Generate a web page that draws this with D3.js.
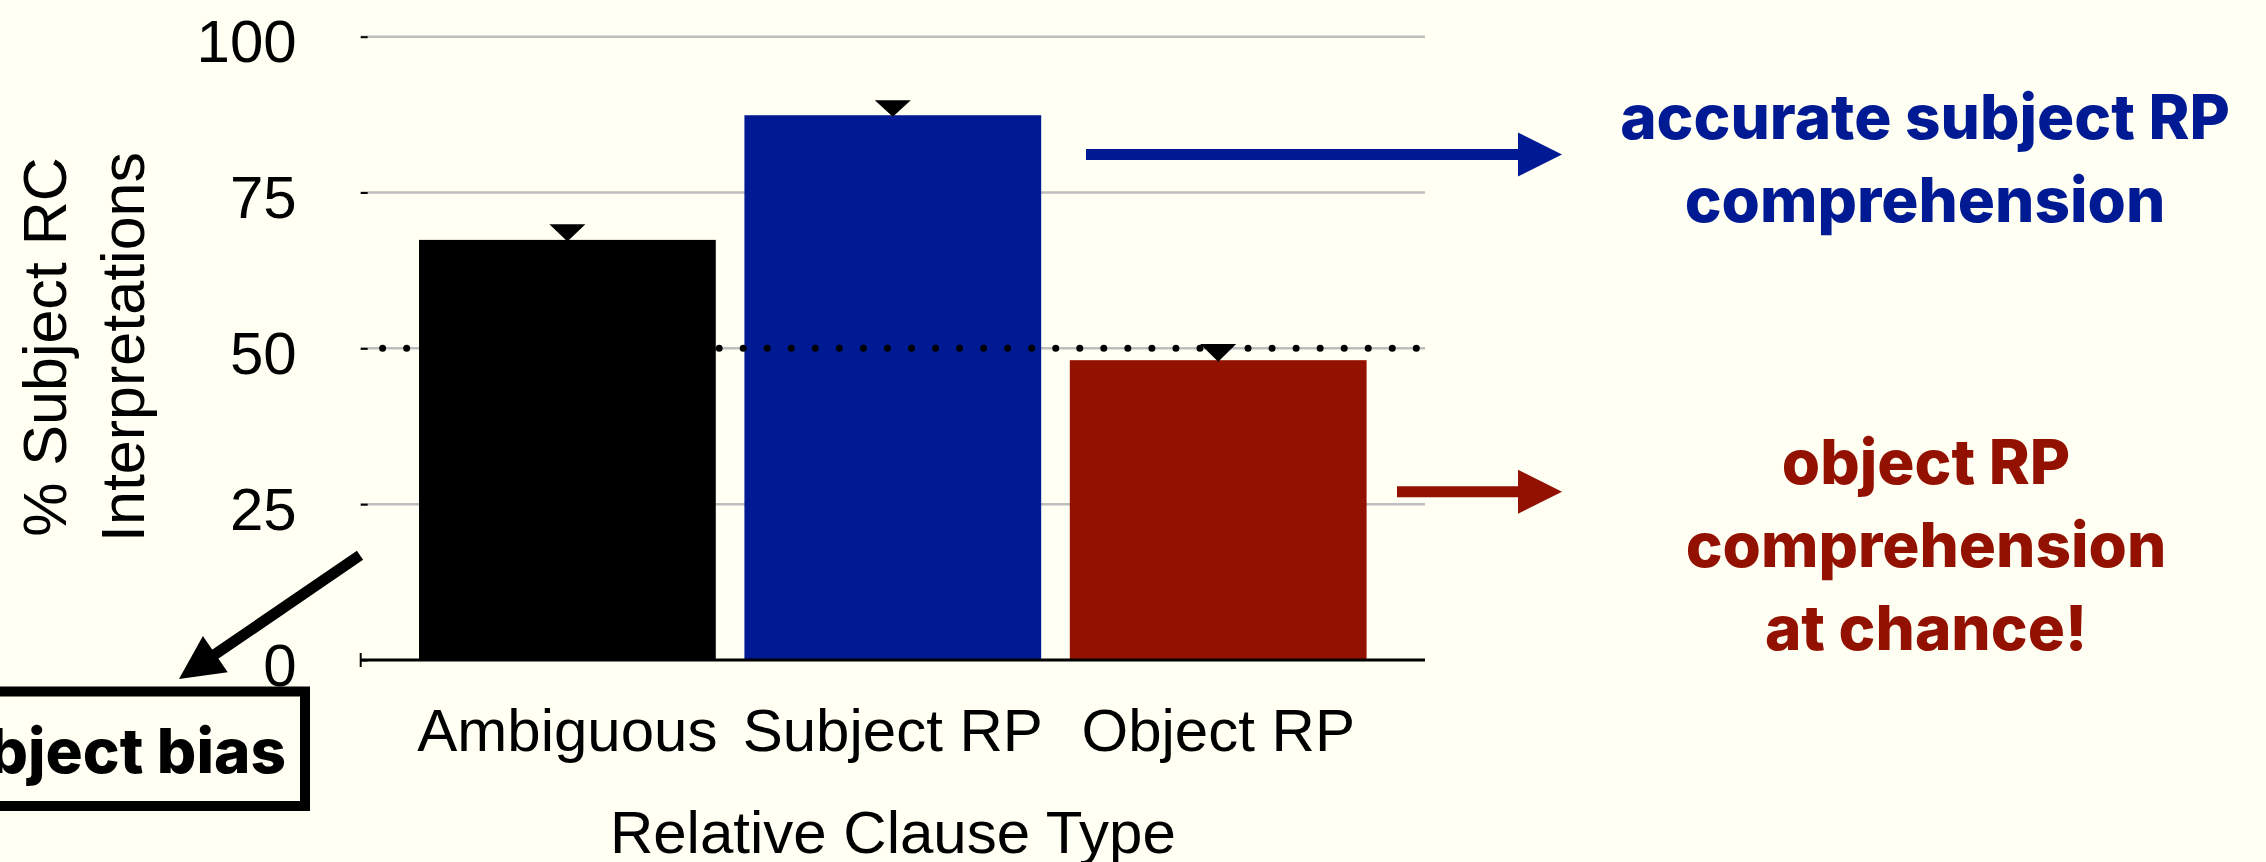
<!DOCTYPE html>
<html>
<head>
<meta charset="utf-8">
<script src="https://cdn.jsdelivr.net/npm/d3@7"></script>
<style>
  html, body { margin: 0; padding: 0; background: #fffff3; overflow: hidden; }
  svg { display: block; }
</style>
</head>
<body>
<script>
// data
var categories = ["Ambiguous", "Subject RP", "Object RP"];
var means = [67.4, 87.4, 48.1];
var errors = [2.5, 2.4, 2.6];
var barColors = ["#000000", "#001a94", "#931100"];
var yTicks = [0, 25, 50, 75, 100];
var gridTicks = [25, 50, 75, 100];
var chanceLevel = 50;

var blueNote = ["accurate subject RP", "comprehension"];
var redNote = ["object RP", "comprehension", "at chance!"];
var biasNote = "object bias";

var width = 2266;
var height = 862;

var plotLeft = 360.7;
var plotRight = 1425;

var svg = d3.select("body")
	.append("svg")
	.attr("width", width)
	.attr("height", height);

svg.append("rect")
	.attr("width", width)
	.attr("height", height)
	.attr("fill", "#fffff3");

var yScale = d3.scaleLinear().domain([0, 100]).range([660, 36.7]);
var xScale = d3.scaleBand()
	.domain(categories)
	.range([404.7, 1380.9])
	.paddingInner(0.088)
	.paddingOuter(0.044);

var rows = categories.map(function (c, i) {
	return { cat: c, mean: means[i], err: errors[i], color: barColors[i] };
});

// grid lines
svg.append("g")
	.selectAll("line")
	.data(gridTicks)
	.enter()
	.append("line")
	.attr("x1", plotLeft)
	.attr("x2", plotRight)
	.attr("y1", function (d) { return yScale(d); })
	.attr("y2", function (d) { return yScale(d); })
	.attr("stroke", "#bdbdbd")
	.attr("stroke-width", 2.5);

// Y axis
var gY = svg.append("g")
	.attr("transform", "translate(" + plotLeft + ",0)")
	.call(d3.axisLeft(yScale).tickValues(yTicks).tickSize(-7).tickPadding(64));
gY.select(".domain").remove();
gY.selectAll(".tick line").attr("stroke", "#000").attr("stroke-width", 2);
gY.selectAll(".tick text")
	.attr("font-family", "'Liberation Sans', Arial, sans-serif")
	.attr("font-size", "60px")
	.attr("fill", "#000")
	.attr("dy", "0.42em");

// bars
svg.append("g")
	.selectAll("rect")
	.data(rows)
	.enter()
	.append("rect")
	.attr("x", function (d) { return xScale(d.cat); })
	.attr("width", xScale.bandwidth())
	.attr("y", function (d) { return yScale(d.mean); })
	.attr("height", function (d) { return yScale(0) - yScale(d.mean); })
	.attr("fill", function (d) { return d.color; });

// chance line (dots)
svg.append("line")
	.attr("x1", plotLeft + 21.9)
	.attr("x2", plotRight - 8)
	.attr("y1", yScale(chanceLevel))
	.attr("y2", yScale(chanceLevel))
	.attr("stroke", "#000")
	.attr("stroke-width", 7)
	.attr("stroke-linecap", "round")
	.attr("stroke-dasharray", "0 24.04");

// error markers (down triangles)
svg.append("g")
	.selectAll("path")
	.data(rows)
	.enter()
	.append("path")
	.attr("d", function (d) {
		var cx = xScale(d.cat) + xScale.bandwidth() / 2;
		var top = yScale(d.mean + d.err);
		var tip = yScale(d.mean) + 1.5;
		return "M" + (cx - 18) + "," + top + "L" + (cx + 18) + "," + top + "L" + cx + "," + tip + "Z";
	})
	.attr("fill", "#000");

// X axis
var gX = svg.append("g")
	.attr("transform", "translate(0," + yScale(0) + ")")
	.call(d3.axisBottom(xScale).tickSize(0).tickPadding(48));
gX.select(".domain").remove();
gX.selectAll(".tick text")
	.attr("font-family", "'Liberation Sans', Arial, sans-serif")
	.attr("font-size", "60px")
	.attr("fill", "#000");

svg.append("line")
	.attr("x1", plotLeft)
	.attr("x2", plotRight)
	.attr("y1", yScale(0))
	.attr("y2", yScale(0))
	.attr("stroke", "#000")
	.attr("stroke-width", 3);
svg.append("line")
	.attr("x1", plotLeft)
	.attr("x2", plotLeft)
	.attr("y1", yScale(0) - 7)
	.attr("y2", yScale(0) + 7)
	.attr("stroke", "#000")
	.attr("stroke-width", 2);

// axis titles
svg.append("text")
	.attr("text-anchor", "middle")
	.attr("x", (plotLeft + plotRight) / 2)
	.attr("y", 853)
	.attr("font-family", "'Liberation Sans', Arial, sans-serif")
	.attr("font-size", "60px")
	.text("Relative Clause Type");

["% Subject RC", "Interpretations"].forEach(function (t, i) {
	svg.append("text")
		.attr("text-anchor", "middle")
		.attr("transform", "translate(" + (66 + i * 78) + ",347) rotate(-90)")
		.attr("font-family", "'Liberation Sans', Arial, sans-serif")
		.attr("font-size", "61px")
		.text(t);
});

// arrows
function arrow(x1, y1, x2, y2, color) {
	var dx = x2 - x1, dy = y2 - y1;
	var len = Math.sqrt(dx * dx + dy * dy);
	var ux = dx / len, uy = dy / len;
	var headLen = 44, headHalf = 22;
	var bx = x2 - ux * headLen, by = y2 - uy * headLen;
	svg.append("line")
		.attr("x1", x1).attr("y1", y1)
		.attr("x2", bx + ux * 2).attr("y2", by + uy * 2)
		.attr("stroke", color)
		.attr("stroke-width", 11);
	svg.append("path")
		.attr("d", "M" + x2 + "," + y2 +
			"L" + (bx - uy * headHalf) + "," + (by + ux * headHalf) +
			"L" + (bx + uy * headHalf) + "," + (by - ux * headHalf) + "Z")
		.attr("fill", color);
}

arrow(1086, yScale(81.1), 1562, yScale(81.1), barColors[1]);
arrow(1397, yScale(27), 1562, yScale(27), barColors[2]);
arrow(360, yScale(16.8), 179, 679, "#000");

// annotation texts
function note(lines, x, y0, color) {
	lines.forEach(function (t, i) {
		svg.append("text")
			.attr("text-anchor", "middle")
			.attr("x", x)
			.attr("y", y0 + i * 83)
			.attr("font-family", "Inter, sans-serif")
			.attr("font-weight", 800)
			.attr("font-size", "62px")
			.attr("fill", color)
			.text(t);
	});
}
note(blueNote, 1925, 139, barColors[1]);
note(redNote, 1926, 483.6, barColors[2]);

// object bias box
svg.append("rect")
	.attr("x", -40)
	.attr("y", 691.5)
	.attr("width", 345)
	.attr("height", 114.5)
	.attr("fill", "none")
	.attr("stroke", "#000")
	.attr("stroke-width", 10);

svg.append("text")
	.attr("text-anchor", "end")
	.attr("x", 286)
	.attr("y", 773)
	.attr("font-family", "Inter, sans-serif")
	.attr("font-weight", 800)
	.attr("font-size", "62px")
	.attr("fill", "#000")
	.text(biasNote);
</script>
</body>
</html>
